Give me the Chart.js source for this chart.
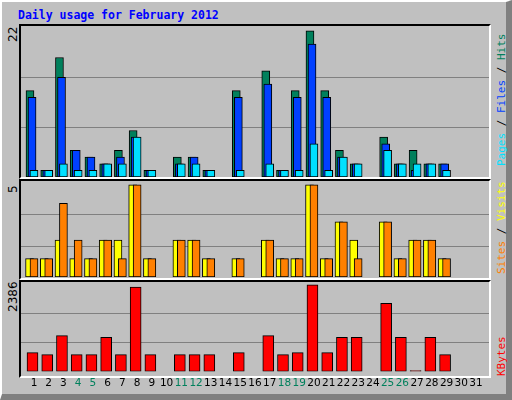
<!DOCTYPE html>
<html><head><meta charset="utf-8">
<script src="https://cdn.jsdelivr.net/npm/chart.js@4"></script>
<style>
body{margin:0;width:512px;height:400px;overflow:hidden;background:#fff}
#frame{position:absolute;left:0;top:0;background:#C0C0C0;border-left:2px solid #fff;border-top:2px solid #fff;border-right:6px solid #808080;border-bottom:6px solid #808080;box-sizing:border-box;width:512px;height:400px}
.panel{position:absolute;left:19px;width:472px;border-top:2px solid #000;border-left:2px solid #000;border-right:2px solid #fff;border-bottom:2px solid #fff;box-sizing:border-box}
.c{position:absolute}
.t{position:absolute;font-family:"DejaVu Sans Mono",monospace;white-space:nowrap}
.rot{transform:rotate(-90deg);transform-origin:left top}
</style></head><body>
<div id="frame"></div>
<div class="t" style="left:18px;top:8px;font-size:11.5px;font-weight:bold;color:#0000FF">Daily usage for February 2012</div>
<div class="panel" style="top:24px;height:155px"></div>
<div class="panel" style="top:179px;height:101px"></div>
<div class="panel" style="top:280px;height:98px"></div>
<div class="t rot" style="left:6px;top:42px;font-size:12px;font-family:'DejaVu Sans'">22</div>
<div class="t rot" style="left:6px;top:193px;font-size:12px;font-family:'DejaVu Sans'">5</div>
<div class="t rot" style="left:6px;top:312px;font-size:12px;font-family:'DejaVu Sans'">2386</div>
<div class="t rot" style="left:495px;top:166px;font-size:11px"><span style="color:#00E0FF">Pages</span><span> / </span><span style="color:#0040FF">Files</span><span> / </span><span style="color:#00805C">Hits</span></div>
<div class="t rot" style="left:495px;top:274px;font-size:11px"><span style="color:#FF8000">Sites</span><span> / </span><span style="color:#FFFF00">Visits</span></div>
<div class="t rot" style="left:495px;top:376px;font-size:11px;color:#FF0000">KBytes</div>
<canvas id="c1" class="c" style="left:21px;top:28px" width="468" height="149"></canvas>
<canvas id="c2" class="c" style="left:21px;top:184px" width="468" height="93"></canvas>
<canvas id="c3" class="c" style="left:21px;top:284px" width="468" height="112"></canvas>
<script>
const days = Array.from({length:31},(_,i)=>i+1);
const weekend = [4,5,11,12,18,19,25,26];
const hits   = [13,1,18,4,3,2,4,7,1,0,3,3,1,0,13,0,16,1,13,22,13,4,2,0,6,2,4,2,2,0,0];
const files  = [12,1,15,4,3,2,3,6,1,0,2,3,1,0,12,0,14,1,12,20,12,3,2,0,5,2,1,2,2,0,0];
const pages  = [1,1,2,1,1,2,2,6,1,0,2,2,1,0,1,0,2,1,1,5,1,3,2,0,4,2,2,2,1,0,0];
const visits = [1,1,2,1,1,2,2,5,1,0,2,2,1,0,1,0,2,1,1,5,1,3,2,0,3,1,2,2,1,0,0];
const sites  = [1,1,4,2,1,2,1,5,1,0,2,2,1,0,1,0,2,1,1,5,1,3,1,0,3,1,2,2,1,0,0];
const kbytes = [516,464,988,464,464,936,464,2326,464,0,464,464,464,0,516,0,988,464,516,2386,516,936,936,0,1880,936,20,936,464,0,0];
const maxHits=22, maxVisits=5, maxKB=2386;

Chart.defaults.animation=false;
Chart.defaults.responsive=false;
function ds(vals,off,color,w,order){
  return {data:vals.map((v,i)=>({x:days[i]+off,y:v>0?v:null})),backgroundColor:color,borderColor:'#000',borderWidth:1,borderSkipped:false,barThickness:w,grouped:false,order:order};
}
function opts(max,showX){
  return {layout:{padding:0},plugins:{legend:{display:false},tooltip:{enabled:false}},
    scales:{
      x:{type:'linear',offset:false,min:0.12,max:31.88,display:showX,grid:{display:false,drawTicks:false,offset:false},border:{display:false},
         afterBuildTicks:s=>{s.ticks=days.map(d=>({value:d}));},
         ticks:{autoSkip:false,maxRotation:0,padding:6,font:{family:'DejaVu Sans',size:10.5},
           color:c=>weekend.includes(c.tick.value)?'#00805C':'#000',callback:v=>String(v)}},
      y:{min:0,max:max,grid:{color:'#808080',drawTicks:false,lineWidth:1},border:{display:false},
         afterBuildTicks:s=>{s.ticks=[{value:max/3},{value:2*max/3}];},
         ticks:{display:false}}
    }};
}
new Chart(document.getElementById('c1'),{type:'bar',data:{datasets:[
  ds(hits,-0.27,'#00805C',8,3),ds(files,-0.13,'#0040FF',8,2),ds(pages,0,'#00E0FF',8,1)]},options:opts(maxHits*1.02,false)});
new Chart(document.getElementById('c2'),{type:'bar',data:{datasets:[
  ds(visits,-0.3,'#FFFF00',8,2),ds(sites,0,'#FF8000',8,1)]},options:opts(maxVisits*1.01,false)});
new Chart(document.getElementById('c3'),{type:'bar',data:{datasets:[
  ds(kbytes,-0.1,'#FF0000',11,1)]},options:opts(maxKB*1.01,true)});
</script>
</body></html>
